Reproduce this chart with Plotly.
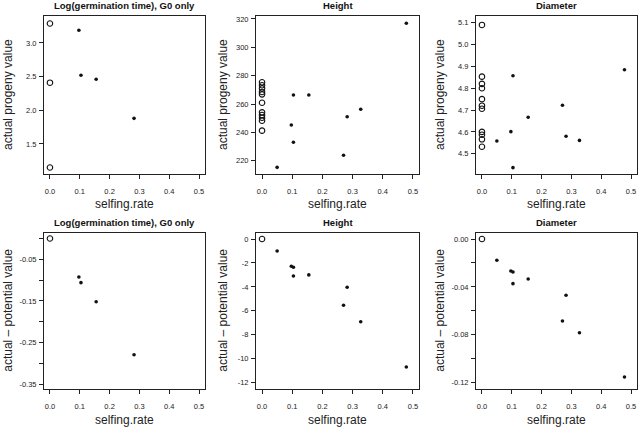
import plotly.graph_objects as go

# ---------------- data ----------------
# Log(germination time), G0 only
germ_open_actual = [3.29, 2.41, 1.15]          # outcrossed (selfing.rate = 0)
germ_open_diff = [0.0]
germ_self = [0.097, 0.104, 0.155, 0.282]
germ_actual = [3.19, 2.52, 2.46, 1.88]
germ_diff = [-0.0925, -0.106, -0.152, -0.279]

# families with selfing (Height / Diameter)
fam_self = [0.05, 0.097, 0.104, 0.104, 0.155, 0.27, 0.282, 0.327, 0.478]
height_actual = [215.3, 245.2, 266.4, 233.0, 266.4, 223.8, 251.0, 256.3, 317.0]
height_diff = [-1.0, -2.28, -2.36, -3.09, -3.0, -5.54, -4.03, -6.91, -10.69]
diam_actual = [4.558, 4.601, 4.857, 4.436, 4.667, 4.722, 4.580, 4.561, 4.885]
diam_diff = [-0.0178, -0.0267, -0.0276, -0.0373, -0.0334, -0.0685, -0.047, -0.0783, -0.1153]

height_open_actual = [275.3, 273.2, 271.0, 268.5, 266.8, 260.9, 254.1, 252.2, 250.3, 248.2, 241.2]
height_open_diff = [0.0]
diam_open_actual = [5.09, 4.853, 4.82, 4.80, 4.75, 4.72, 4.706, 4.60, 4.587, 4.566, 4.532]
diam_open_diff = [0.0]

x_ticks = [0.0, 0.1, 0.2, 0.3, 0.4, 0.5]
x_ticktext = ["0.0", "0.1", "0.2", "0.3", "0.4", "0.5"]

germ_yticks = [1.5, 2.0, 2.5, 3.0]
germ_yticktext = ["1.5", "2.0", "2.5", "3.0"]
height_yticks = [220, 240, 260, 280, 300, 320]
height_yticktext = ["220", "240", "260", "280", "300", "320"]
diam_yticks = [4.5, 4.6, 4.7, 4.8, 4.9, 5.0, 5.1]
diam_yticktext = ["4.5", "4.6", "4.7", "4.8", "4.9", "5.0", "5.1"]
germd_yticks = [0.0, -0.05, -0.10, -0.15, -0.20, -0.25, -0.30, -0.35]
germd_yticktext = ["", "-0.05", "", "-0.15", "", "-0.25", "", "-0.35"]
heightd_yticks = [0, -2, -4, -6, -8, -10, -12]
heightd_yticktext = ["0", "-2", "-4", "-6", "-8", "-10", "-12"]
diamd_yticks = [0.0, -0.02, -0.04, -0.06, -0.08, -0.10, -0.12]
diamd_yticktext = ["0.00", "", "-0.04", "", "-0.08", "", "-0.12"]

titles = ["Log(germination time), G0 only", "Height", "Diameter"]
ytitle_top = "actual progeny value"
ytitle_bottom = "actual \u2013 potential value"
xtitle = "selfing.rate"

# ---------------- layout ----------------
W, H = 640, 429
FONT = "Liberation Sans, Arial, Helvetica, sans-serif"
col_px = [(44, 205), (256, 419), (476, 637)]
row_px = [(16, 174), (232.5, 389)]
ytitle_x = [8, 223, 440]


def py(v):
    return 1 - v / H


panels = [
    (0, 0, germ_open_actual, germ_self, germ_actual, [1.053, 3.401], germ_yticks, germ_yticktext),
    (0, 1, height_open_actual, fam_self, height_actual, [210.6, 322.1], height_yticks, height_yticktext),
    (0, 2, diam_open_actual, fam_self, diam_actual, [4.407, 5.131], diam_yticks, diam_yticktext),
    (1, 0, germ_open_diff, germ_self, germ_diff, [-0.3613, 0.0143], germd_yticks, germd_yticktext),
    (1, 1, height_open_diff, fam_self, height_diff, [-12.53, 0.543], heightd_yticks, heightd_yticktext),
    (1, 2, diam_open_diff, fam_self, diam_diff, [-0.1253, 0.00543], diamd_yticks, diamd_yticktext),
]

fig = go.Figure()
annotations = []
layout = {}
for i, (r, c, oy, fx, fy, yr, yt, ytt) in enumerate(panels):
    n = i + 1
    xa = "x" if n == 1 else f"x{n}"
    ya = "y" if n == 1 else f"y{n}"
    fig.add_trace(go.Scatter(
        x=[0.0] * len(oy), y=oy, mode="markers", xaxis=xa, yaxis=ya,
        marker=dict(symbol="circle-open", size=5.5, color="#111", line=dict(width=1.1, color="#111")),
        showlegend=False, hoverinfo="skip", cliponaxis=False))
    fig.add_trace(go.Scatter(
        x=fx, y=fy, mode="markers", xaxis=xa, yaxis=ya,
        marker=dict(symbol="circle", size=3.6, color="#111"),
        showlegend=False, hoverinfo="skip", cliponaxis=False))
    x0, x1 = col_px[c]
    y0, y1 = row_px[r]
    axcommon = dict(showline=True, mirror=True, linecolor="#222", linewidth=1,
                    ticks="outside", ticklen=4, tickwidth=1, tickcolor="#222",
                    showgrid=False, zeroline=False,
                    tickfont=dict(family=FONT, size=7.5, color="#222"))
    layout["xaxis" if n == 1 else f"xaxis{n}"] = dict(
        domain=[x0 / W, x1 / W], range=[-0.02, 0.52], anchor=ya,
        tickvals=x_ticks, ticktext=x_ticktext, ticklabelstandoff=6, **axcommon)
    layout["yaxis" if n == 1 else f"yaxis{n}"] = dict(
        domain=[py(y1), py(y0)], range=yr, anchor=xa,
        tickvals=yt, ticktext=ytt, ticklabelstandoff=1, **axcommon)

    cx = (x0 + x1) / 2 / W
    annotations.append(dict(
        text=f"<b>{titles[c]}</b>", x=cx, y=py(5.7 if r == 0 else 222.3),
        xref="paper", yref="paper", showarrow=False, xanchor="center", yanchor="middle",
        font=dict(family=FONT, size=9.5, color="#111")))
    annotations.append(dict(
        text=xtitle, x=cx, y=py(204 if r == 0 else 420),
        xref="paper", yref="paper", showarrow=False, xanchor="center", yanchor="middle",
        font=dict(family=FONT, size=12, color="#222")))
    annotations.append(dict(
        text=ytitle_top if r == 0 else ytitle_bottom, x=ytitle_x[c] / W,
        y=py((y0 + y1) / 2),
        xref="paper", yref="paper", showarrow=False, xanchor="center", yanchor="middle",
        textangle=-90, font=dict(family=FONT, size=12, color="#222")))

fig.update_layout(
    width=W, height=H, margin=dict(l=0, r=0, t=0, b=0),
    paper_bgcolor="white", plot_bgcolor="white",
    annotations=annotations, **layout)

# remove the browser's default 8px body margin so the figure fills the window
fig.write_html("out.html",
               config={"displayModeBar": False, "staticPlot": True},
               post_script="document.body.style.margin='0';document.body.style.overflow='hidden';")
